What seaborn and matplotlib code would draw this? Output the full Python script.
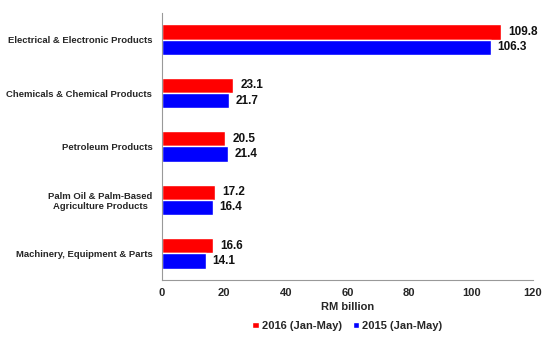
import matplotlib
matplotlib.use("Agg")
import matplotlib.pyplot as plt
import seaborn as sns
import pandas as pd

categories = ["Electrical & Electronic Products", "Chemicals & Chemical Products",
              "Petroleum Products", "Palm Oil & Palm-Based\nAgriculture Products",
              "Machinery, Equipment & Parts"]
series_names = ["2016 (Jan-May)", "2015 (Jan-May)"]
values_2016 = [109.8, 23.1, 20.5, 17.2, 16.6]
values_2015 = [106.3, 21.7, 21.4, 16.4, 14.1]
x_ticks = [0, 20, 40, 60, 80, 100, 120]

df = pd.DataFrame({
    "category": categories * 2,
    "series": [series_names[0]] * len(categories) + [series_names[1]] * len(categories),
    "value": values_2016 + values_2015,
})

sns.set_theme(style="white")
plt.rcParams["font.family"] = ["Liberation Sans", "DejaVu Sans"]
plt.rcParams["font.weight"] = "bold"

fig = plt.figure(figsize=(5.5, 3.5), dpi=100)
ax = fig.add_axes([0.2945, 0.2, 0.6745, 0.763])

palette = {series_names[0]: "#FF0000", series_names[1]: "#0000FF"}
sns.barplot(data=df, y="category", x="value", hue="series", palette=palette,
            orient="h", width=0.57, saturation=1, ax=ax, legend=True)

for cont in ax.containers:
    ax.bar_label(cont, fmt="%.1f", padding=5, fontsize=8.5, fontweight="bold", color="#111111")

ax.set_xlim(0, 120)
ax.set_xticks(x_ticks)
ax.set_xlabel("RM billion", fontsize=8, fontweight="bold", labelpad=3)
ax.set_ylabel("")
ax.tick_params(axis="x", labelsize=8, length=3, width=0.8, color="#888888", pad=3)
ax.tick_params(axis="y", labelsize=6.8, length=0, pad=7)
for lab in ax.get_yticklabels():
    lab.set_fontweight("bold")
    lab.set_multialignment("center")
for lab in ax.get_xticklabels():
    lab.set_fontweight("bold")

for side in ["top", "right"]:
    ax.spines[side].set_visible(False)
for side in ["left", "bottom"]:
    ax.spines[side].set_color("#999999")
    ax.spines[side].set_linewidth(0.8)

leg = ax.legend(loc="center", bbox_to_anchor=(0.5, -0.172), ncol=2, frameon=False,
                fontsize=8, handlelength=0.55, handleheight=0.55, handletextpad=0.3,
                columnspacing=1.0)
for t in leg.get_texts():
    t.set_fontweight("bold")

fig.savefig("out.png", dpi=100, facecolor="white")
